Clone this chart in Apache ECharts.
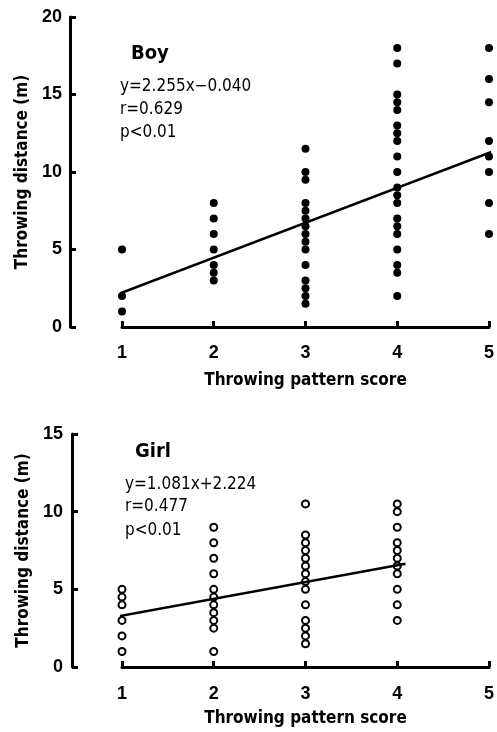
<!DOCTYPE html>
<html>
<head>
<meta charset="utf-8">
<script src="https://cdn.jsdelivr.net/npm/echarts@6/dist/echarts.min.js"></script>
<style>
html,body{margin:0;padding:0;background:#fff;}
#chart{width:497px;height:732px;}
</style>
</head>
<body>
<div id="chart"></div>
<script>
// ---- data ----
var scoreCategories = [1, 2, 3, 4, 5];
var xTickLabels = ['1', '2', '3', '4', '5'];
var boyYTicks = ['0', '5', '10', '15', '20'];
var girlYTicks = ['0', '5', '10', '15'];

var boyScore1 = [5, 2, 1];
var boyScore2 = [8, 7, 6, 5, 4, 3.5, 3];
var boyScore3 = [11.5, 10, 9.5, 8, 7.5, 7, 6.5, 6, 5.5, 5, 4, 3, 2.5, 2, 1.5];
var boyScore4 = [18, 17, 15, 14.5, 14, 13, 12.5, 12, 11, 10, 9, 8.5, 8, 7, 6.5, 6, 5, 4, 3.5, 2];
var boyScore5 = [18, 16, 14.5, 12, 11, 10, 8, 6];

var girlScore1 = [5, 4.5, 4, 3, 2, 1];
var girlScore2 = [9, 8, 7, 6, 5, 4.5, 4, 3.5, 3, 2.5, 1];
var girlScore3 = [10.5, 8.5, 8, 7.5, 7, 6.5, 6, 5.5, 5, 4, 3, 2.5, 2, 1.5];
var girlScore4 = [10.5, 10, 9, 8, 7.5, 7, 6.5, 6, 5, 4, 3];

// regression line end points
var boyFitX = [0.87, 5.06];
var boyFitY = [1.92, 11.37];
var girlFitX = [0.9, 4.09];
var girlFitY = [3.2, 6.65];

var boyLabels = ['Boy', 'y=2.255x\u22120.040', 'r=0.629', 'p<0.01'];
var girlLabels = ['Girl', 'y=1.081x+2.224', 'r=0.477', 'p<0.01'];
var xAxisTitle = 'Throwing pattern score';
var yAxisTitle = 'Throwing distance (m)';

// ---- build ----
function pairs(groups) {
  var out = [];
  groups.forEach(function (g, i) {
    g.forEach(function (v) { out.push([scoreCategories[i], v]); });
  });
  return out;
}
function linePts(xs, ys) { return xs.map(function (x, i) { return [x, ys[i]]; }); }

var boyData = pairs([boyScore1, boyScore2, boyScore3, boyScore4, boyScore5]);
var girlData = pairs([girlScore1, girlScore2, girlScore3, girlScore4]);

var tickFont = {fontFamily: 'Liberation Sans, Arial, sans-serif', fontWeight: 'bold', fontSize: 18, color: '#000'};
var titleFont = {fontFamily: 'DejaVu Sans Condensed, DejaVu Sans, sans-serif', fontWeight: 'bold', fontSize: 17, color: '#000'};
var annFont = 'DejaVu Sans Condensed, DejaVu Sans, sans-serif';
var headFont = 'Liberation Sans Narrow, DejaVu Sans Condensed, sans-serif';

function xAxisCfg(grid, offset, margin, gap) {
  return {
    type: 'value', gridIndex: grid, min: 1, max: 5, interval: 1, offset: offset,
    axisLine: {show: true, lineStyle: {color: '#000', width: 3}},
    axisTick: {show: true, inside: true, length: 6, lineStyle: {color: '#000', width: 3}},
    axisLabel: Object.assign({margin: margin, formatter: function (v) { return xTickLabels[scoreCategories.indexOf(v)] || ''; }}, tickFont),
    splitLine: {show: false},
    name: xAxisTitle, nameLocation: 'middle', nameGap: gap, nameTextStyle: titleFont
  };
}
function yAxisCfg(grid, max, labels, offset, margin, gap) {
  return {
    type: 'value', gridIndex: grid, min: 0, max: max, interval: 5, offset: offset,
    axisLine: {show: true, lineStyle: {color: '#000', width: 3}},
    axisTick: {show: true, inside: true, length: 6, lineStyle: {color: '#000', width: 3}},
    axisLabel: Object.assign({margin: margin, formatter: function (v) { return labels[v / 5]; }}, tickFont),
    splitLine: {show: false},
    name: yAxisTitle, nameLocation: 'middle', nameGap: gap, nameTextStyle: titleFont
  };
}

function annText(x, y, str, font, size, weight) {
  return {type: 'text', left: x, top: y, style: {text: str, fill: '#000', font: (weight || 'normal') + ' ' + size + 'px ' + font}};
}

var chart = echarts.init(document.getElementById('chart'), null, {renderer: 'canvas'});
chart.setOption({
  backgroundColor: '#fff',
  animation: false,
  grid: [
    {left: 122, right: 6, top: 17, bottom: 405},
    {left: 122, right: 5, top: 434, bottom: 65}
  ],
  xAxis: [xAxisCfg(0, 8, 9, 37), xAxisCfg(1, 10, 8, 33)],
  yAxis: [yAxisCfg(0, 20, boyYTicks, 52, 8, 37), yAxisCfg(1, 15, girlYTicks, 50, 9, 39)],
  series: [
    {type: 'scatter', xAxisIndex: 0, yAxisIndex: 0, data: boyData, symbol: 'circle', symbolSize: 8, clip: false,
     itemStyle: {color: '#000', opacity: 1}},
    {type: 'line', xAxisIndex: 0, yAxisIndex: 0, data: linePts(boyFitX, boyFitY), symbol: 'none', clip: false,
     lineStyle: {color: '#000', width: 2.5}},
    {type: 'scatter', xAxisIndex: 1, yAxisIndex: 1, data: girlData, symbol: 'emptyCircle', symbolSize: 7, clip: false,
     itemStyle: {color: '#000', borderColor: '#000', borderWidth: 1.2, opacity: 1}},
    {type: 'line', xAxisIndex: 1, yAxisIndex: 1, data: linePts(girlFitX, girlFitY), symbol: 'none', clip: false,
     lineStyle: {color: '#000', width: 2.5}}
  ],
  graphic: [
    annText(131, 44, boyLabels[0], headFont, 20, 'bold'),
    annText(120, 78, boyLabels[1], annFont, 17),
    annText(120, 101, boyLabels[2], annFont, 17),
    annText(120, 124, boyLabels[3], annFont, 17),
    annText(135, 442, girlLabels[0], headFont, 20, 'bold'),
    annText(125, 476, girlLabels[1], annFont, 17),
    annText(125, 498, girlLabels[2], annFont, 17),
    annText(125, 522, girlLabels[3], annFont, 17)
  ]
});
</script>
</body>
</html>
